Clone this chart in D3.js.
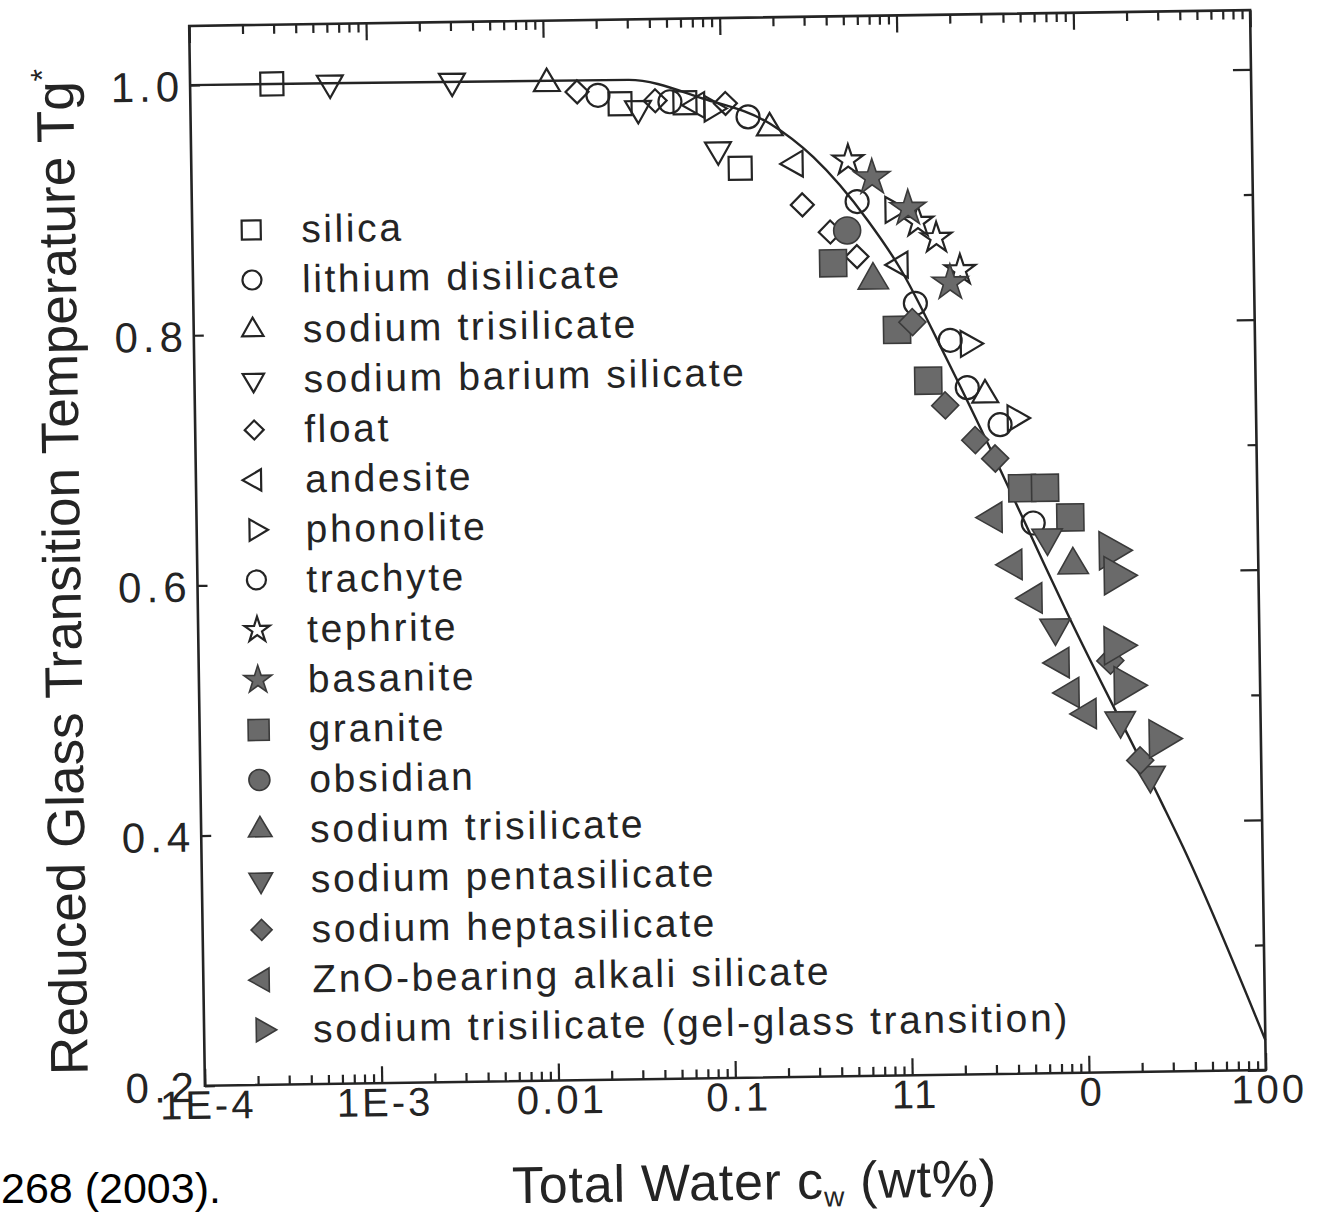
<!DOCTYPE html>
<html>
<head>
<meta charset="utf-8">
<script src="https://cdn.jsdelivr.net/npm/d3@7"></script>
<style>
  html, body { margin: 0; padding: 0; background: #fff; }
  svg { display: block; }
</style>
</head>
<body>
<svg id="chart" width="1328" height="1214"></svg>
<script>
// Reduced glass transition temperature Tg* versus total water content (wt%)
// Each point: [total water c_w in wt%, Tg*]
const silica = [[2.9e-4, 1.0], [0.0269, 0.980], [0.0626, 0.980], [0.127, 0.927]];
const lithiumDisilicate = [[0.0202, 0.987], [0.142, 0.968], [0.578, 0.899], [1.89, 0.787]];
const sodiumTrisilicate = [[0.0104, 0.997], [0.188, 0.959], [2.95, 0.743]];
const sodiumBariumSilicate = [[6.18e-4, 1.0], [3.03e-3, 1.0], [0.034, 0.976], [0.0955, 0.942]];
const floatGlass = [[0.0154, 0.990], [0.0425, 0.982], [0.106, 0.979], [0.283, 0.897], [0.405, 0.875], [0.571, 0.855]];
const andesite = [[0.0731, 0.978], [0.260, 0.930], [1.0, 0.848]];
const phonolite = [[0.0889, 0.975], [0.92, 0.892], [2.39, 0.784], [4.34, 0.724]];
const trachyte = [[0.0515, 0.981], [1.21, 0.817], [2.34, 0.749], [3.56, 0.719], [5.38, 0.640]];
const tephrite = [[0.518, 0.932], [1.27, 0.882], [1.61, 0.869], [2.18, 0.843]];
const basanite = [[0.705, 0.918], [1.12, 0.893], [1.91, 0.833]];
const granite = [[0.418, 0.850], [0.948, 0.796], [1.41, 0.755], [4.69, 0.668], [6.32, 0.668], [8.73, 0.644]];
const obsidian = [[0.505, 0.876]];
const sodiumTrisilicateFilled = [[0.702, 0.836], [8.97, 0.606]];
const sodiumPentasilicate = [[6.44, 0.628], [7.02, 0.556], [16.1, 0.481], [23.5, 0.437]];
const sodiumHeptasilicate = [[1.16, 0.802], [1.75, 0.735], [2.57, 0.707], [3.32, 0.692], [14.3, 0.529], [20.7, 0.449]];
const znoAlkaliSilicate = [[3.20, 0.645], [4.11, 0.607], [5.30, 0.580], [7.45, 0.528], [8.43, 0.504], [10.5, 0.487]];
const gelGlass = [[14.6, 0.617], [15.5, 0.597], [15.3, 0.541], [17.3, 0.509], [27.0, 0.466]];

// Model curve through the data
const modelCurve = [[1e-4, 1.0], [0.03, 0.999], [0.08, 0.983], [0.19, 0.962], [0.33, 0.935], [0.66, 0.884],
  [1.0, 0.845], [1.72, 0.778], [3.54, 0.683], [5.85, 0.614], [8.2, 0.568], [26.7, 0.417], [35.6, 0.379], [100, 0.224]];

// Axis ticks and labels
const xTickValues = [1e-4, 1e-3, 0.01, 0.1, 1, 10, 100];
const xTickLabels = ["1E-4", "1E-3", "0.01", "0.1", "11", "0", "100"];
const yTickValues = [0.2, 0.4, 0.6, 0.8, 1.0];
const yTickLabels = ["0.2", "0.4", "0.6", "0.8", "1.0"];
const yMinorValues = [0.3, 0.5, 0.7, 0.9];

const series = [
  { name: "silica", data: silica, shape: "square", filled: false },
  { name: "lithium disilicate", data: lithiumDisilicate, shape: "circle", filled: false },
  { name: "sodium trisilicate", data: sodiumTrisilicate, shape: "up", filled: false },
  { name: "sodium barium silicate", data: sodiumBariumSilicate, shape: "down", filled: false },
  { name: "float", data: floatGlass, shape: "diamond", filled: false },
  { name: "andesite", data: andesite, shape: "left", filled: false },
  { name: "phonolite", data: phonolite, shape: "right", filled: false },
  { name: "trachyte", data: trachyte, shape: "circle", filled: false },
  { name: "tephrite", data: tephrite, shape: "star", filled: false },
  { name: "basanite", data: basanite, shape: "star", filled: true },
  { name: "granite", data: granite, shape: "square", filled: true },
  { name: "obsidian", data: obsidian, shape: "circle", filled: true },
  { name: "sodium trisilicate", data: sodiumTrisilicateFilled, shape: "up", filled: true },
  { name: "sodium pentasilicate", data: sodiumPentasilicate, shape: "down", filled: true },
  { name: "sodium heptasilicate", data: sodiumHeptasilicate, shape: "diamond", filled: true },
  { name: "ZnO-bearing alkali silicate", data: znoAlkaliSilicate, shape: "left", filled: true },
  { name: "sodium trisilicate (gel-glass transition)", data: gelGlass, shape: "right", filled: true, big: true }
];

// Frame of the plotting area
const L = 197, R = 1258, T = 18, B = 1078;
const INK = "#242424";
const FONT = "'Liberation Sans', Arial, Helvetica, sans-serif";

const svg = d3.select("#chart");
svg.append("rect").attr("width", 1328).attr("height", 1214).attr("fill", "#fff");

// The whole figure sits slightly tilted on the page
const g = svg.append("g").attr("transform", "rotate(-0.85 726 548)");

const x = d3.scaleLog().domain([1e-4, 100]).range([L, R]);
const y = d3.scaleLinear().domain([0.2, 0.2 + (B - T) / 1251]).range([B, T]);

// Minor ticks for each decade
const xMinor = [];
for (let e = -4; e < 2; e++) for (let k = 2; k <= 9; k++) xMinor.push(k * Math.pow(10, e));

function styleAxis(sel) {
  sel.select(".domain").remove();
  sel.selectAll(".tick line").attr("stroke", INK).attr("stroke-width", 2.2);
  sel.selectAll(".tick text").remove();
}

// Inward ticks on all four sides
g.append("g").attr("transform", `translate(0,${B})`)
  .call(d3.axisBottom(x).tickValues(xTickValues).tickSize(-17).tickFormat("")).call(styleAxis);
g.append("g").attr("transform", `translate(0,${B})`)
  .call(d3.axisBottom(x).tickValues(xMinor).tickSize(-9).tickFormat("")).call(styleAxis);
g.append("g").attr("transform", `translate(0,${T})`)
  .call(d3.axisTop(x).tickValues(xTickValues).tickSize(-17).tickFormat("")).call(styleAxis);
g.append("g").attr("transform", `translate(0,${T})`)
  .call(d3.axisTop(x).tickValues(xMinor).tickSize(-9).tickFormat("")).call(styleAxis);
g.append("g").attr("transform", `translate(${L},0)`)
  .call(d3.axisLeft(y).tickValues(yTickValues).tickSize(-10).tickFormat("")).call(styleAxis);
g.append("g").attr("transform", `translate(${R},0)`)
  .call(d3.axisRight(y).tickValues(yTickValues).tickSize(-18).tickFormat("")).call(styleAxis);
g.append("g").attr("transform", `translate(${R},0)`)
  .call(d3.axisRight(y).tickValues(yMinorValues).tickSize(-9).tickFormat("")).call(styleAxis);

g.append("rect").attr("x", L).attr("y", T).attr("width", R - L).attr("height", B - T)
  .attr("fill", "none").attr("stroke", INK).attr("stroke-width", 2.6);

// Tick labels
g.append("g").selectAll("text").data(xTickValues).join("text")
  .attr("x", d => x(d) + 3).attr("y", B + 33)
  .attr("text-anchor", "middle")
  .attr("font-family", FONT).attr("font-size", 40).attr("letter-spacing", 3)
  .attr("fill", INK)
  .text((d, i) => xTickLabels[i]);

g.append("g").selectAll("text").data(yTickValues).join("text")
  .attr("x", L - 6).attr("y", d => y(d) + 16)
  .attr("text-anchor", "end")
  .attr("font-family", FONT).attr("font-size", 42).attr("letter-spacing", 5)
  .attr("fill", INK)
  .text((d, i) => yTickLabels[i]);

// Axis titles
const yTitle = g.append("text")
  .attr("transform", "translate(80,562) rotate(-90)")
  .attr("text-anchor", "middle")
  .attr("font-family", FONT).attr("font-size", 53)
  .attr("fill", INK);
yTitle.append("tspan").text("Reduced Glass Transition Temperature Tg");
yTitle.append("tspan").attr("font-size", 32).attr("dy", -20).text("*");

const xTitle = g.append("text")
  .attr("x", 745).attr("y", 1200)
  .attr("text-anchor", "middle")
  .attr("font-family", FONT).attr("font-size", 52).attr("letter-spacing", 0.8)
  .attr("fill", INK);
xTitle.append("tspan").text("Total Water c");
xTitle.append("tspan").attr("font-size", 28).attr("dy", 8).text("w");
xTitle.append("tspan").attr("dy", -8).text("  (wt%)");

// Model curve
const line = d3.line().x(d => x(d[0])).y(d => y(d[1])).curve(d3.curveMonotoneX);
g.append("path").datum(modelCurve).attr("d", line)
  .attr("fill", "none").attr("stroke", INK).attr("stroke-width", 2.4);

// Marker shapes
function markerPath(shape, r) {
  switch (shape) {
    case "square": return d3.symbol(d3.symbolSquare, 4 * r * r)();
    case "circle": return d3.symbol(d3.symbolCircle, Math.PI * r * r)();
    case "diamond": return d3.symbol(d3.symbolSquare, 2 * r * r)();
    case "star": return d3.symbol(d3.symbolStar, 2.2 * r * r)();
    default: {
      const s = 2.25 * r;
      return d3.symbol(d3.symbolTriangle, s * s * Math.sqrt(3) / 4)();
    }
  }
}
const markerRotation = { down: 180, left: -90, right: 90, diamond: 45 };

function drawMarker(sel, shape, filled, r) {
  sel.attr("d", markerPath(shape, r))
    .attr("fill", filled ? "#6a6a6a" : "none")
    .attr("stroke", filled ? "#3a3a3a" : INK)
    .attr("stroke-width", filled ? 1.6 : 2.2)
    .attr("stroke-linejoin", "miter");
}

series.forEach(s => {
  const r = s.big ? 17 : (s.filled ? 13.5 : 11.5);
  g.append("g").selectAll("path").data(s.data).join("path")
    .attr("transform", d => `translate(${x(d[0])},${y(d[1])}) rotate(${markerRotation[s.shape] || 0})`)
    .call(sel => drawMarker(sel, s.shape, s.filled, r));
});

// Legend
const legend = g.append("g");
series.forEach((s, i) => {
  const cy = 223 + i * 50;
  const r = s.filled ? 10.5 : 9.5;
  legend.append("path")
    .attr("transform", `translate(256,${cy}) rotate(${markerRotation[s.shape] || 0})`)
    .call(sel => drawMarker(sel, s.shape, s.filled, r));
  legend.append("text")
    .attr("x", 306).attr("y", cy + 13)
    .attr("font-family", FONT).attr("font-size", 39).attr("letter-spacing", 2.6)
    .attr("fill", INK)
    .text(s.name);
});

// Citation fragment below the figure
svg.append("text")
  .attr("x", 1).attr("y", 1203)
  .attr("font-family", FONT).attr("font-size", 43)
  .attr("fill", "#000")
  .text("268 (2003).");
</script>
</body>
</html>
